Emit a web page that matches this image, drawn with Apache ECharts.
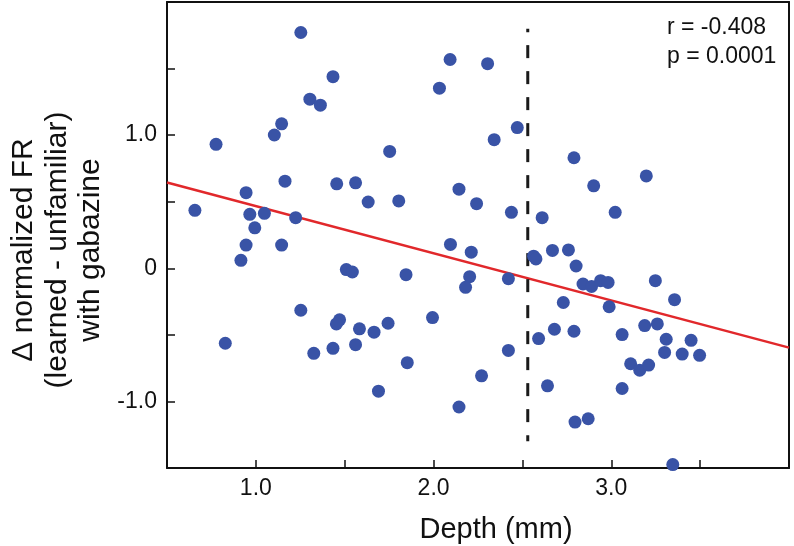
<!DOCTYPE html>
<html>
<head>
  <meta charset="utf-8">
  <title>Depth vs normalized FR</title>
  <script src="https://cdn.jsdelivr.net/npm/echarts@6/dist/echarts.min.js"></script>
  <style>
    html, body {
      margin: 0;
      padding: 0;
      background: #fff;
    }
    #chart {
      width: 794px;
      height: 546px;
    }
  </style>
</head>
<body>
<div id="chart"></div>
<script>
  /* depth of each recording site (mm) */
  let depth = [
    1.253, 1.434, 1.304, 1.363, 1.145, 1.104, 0.776, 1.164, 1.455, 1.561,
    1.632, 0.945, 0.657, 0.966, 1.048, 1.224, 0.994, 0.945, 1.145, 0.916,
    1.509, 1.543, 1.253, 1.471, 1.453, 1.583, 1.665, 0.828, 1.326, 1.434,
    1.561, 1.690, 1.744, 1.845, 1.852, 1.994, 2.095, 2.212, 2.203, 2.180,
    2.143, 2.270, 2.421, 2.421, 2.563, 2.576, 2.669, 2.759, 2.802, 2.841,
    2.730, 2.680, 2.591, 2.790, 2.641, 2.796, 2.870, 2.889, 2.940, 2.982,
    2.988, 3.061, 3.248, 3.356, 3.188, 3.259, 3.309, 3.300, 3.449, 3.399,
    3.497, 3.109, 3.160, 3.210, 3.061, 3.346, 2.093, 2.304, 2.033, 2.471,
    2.341, 1.753, 2.790, 1.804, 2.143, 2.242, 2.438, 2.611, 3.197, 2.901,
    3.022
  ];

  /* Δ normalized FR (learned - unfamiliar) with gabazine */
  let deltaFR = [
    1.771, 1.439, 1.270, 1.225, 1.085, 1.001, 0.931, 0.654, 0.634, 0.642,
    0.498, 0.568, 0.435, 0.405, 0.413, 0.380, 0.304, 0.174, 0.174, 0.060,
    -0.010, -0.028, -0.315, -0.387, -0.418, -0.455, -0.480, -0.563, -0.639, -0.601,
    -0.574, -0.923, -0.413, -0.048, -0.709, -0.370, 0.179, 0.121, -0.063, -0.143,
    -1.042, -0.808, -0.078, -0.617, 0.091, 0.070, 0.134, 0.138, 0.017, -0.118,
    -0.257, -0.458, -0.528, -0.473, -0.883, -1.155, -1.130, -0.136, -0.093, -0.106,
    -0.289, -0.498, -0.093, -0.236, -0.430, -0.418, -0.533, -0.632, -0.541, -0.644,
    -0.654, -0.717, -0.765, -0.727, -0.903, -1.474, 1.568, 1.537, 1.353, 1.057,
    0.966, 0.878, 0.830, 0.506, 0.594, 0.485, 0.420, 0.380, 0.694, 0.619,
    0.420
  ];

  /* regression line end points */
  let fitX = [0.5, 4.0];
  let fitY = [0.644, -0.596];

  /* vertical dashed boundary */
  let boundaryX = [2.53, 2.53];
  let boundaryY = [1.80, -1.30];

  let xTickLabels = {'1': '1.0', '2': '2.0', '3': '3.0'};
  let yTickLabels = {'-1': '-1.0', '0': '0', '1': '1.0'};

  let statLines = ['r = -0.408', 'p = 0.0001'];
  let yTitleLines = ['\u0394 normalized FR', '(learned - unfamiliar)', 'with gabazine'];

  let fontFamily = '"Liberation Sans", Arial, Helvetica, sans-serif';
  let ink = '#111';

  function zip(xs, ys) {
    let out = [];
    xs.forEach(function (x, i) {
      out.push([x, ys[i]]);
    });
    return out;
  }

  /*边框轴：只画线，不画刻度和文字*/
  function frameAxis(position, min, max) {
    return {
      type: 'value',
      position: position,
      min: min,
      max: max,
      axisLine: {show: true, onZero: false, lineStyle: {color: ink, width: 2}},
      axisTick: {show: false},
      axisLabel: {show: false},
      splitLine: {show: false}
    };
  }

  let chart = echarts.init(document.getElementById('chart'), null, {renderer: 'canvas'});

  let option = {
    animation: false,
    backgroundColor: '#fff',
    grid: {
      left: 167,
      right: 5,
      top: 2,
      bottom: 78,
      containLabel: false,
      outerBoundsMode: 'none'
    },
    xAxis: [
      {
        type: 'value',
        position: 'bottom',
        min: 0.5,
        max: 4.0,
        interval: 0.5,
        name: 'Depth (mm)',
        nameLocation: 'middle',
        nameGap: 47,
        nameTextStyle: {
          fontFamily: fontFamily,
          fontSize: 29,
          color: ink,
          padding: [0, 0, 0, 36]
        },
        axisLine: {show: true, onZero: false, lineStyle: {color: ink, width: 2}},
        axisTick: {show: true, inside: true, length: 8, lineStyle: {color: ink, width: 1.5}},
        splitLine: {show: false},
        axisLabel: {
          margin: 9,
          fontFamily: fontFamily,
          fontSize: 23,
          color: ink,
          formatter: function (value) {
            return xTickLabels[String(value)] || '';
          }
        }
      },
      frameAxis('top', 0.5, 4.0)
    ],
    yAxis: [
      {
        type: 'value',
        position: 'left',
        min: -1.5,
        max: 2.0,
        interval: 0.5,
        axisLine: {show: true, onZero: false, lineStyle: {color: ink, width: 2}},
        axisTick: {show: true, inside: true, length: 8, lineStyle: {color: ink, width: 1.5}},
        splitLine: {show: false},
        axisLabel: {
          margin: 10,
          fontFamily: fontFamily,
          fontSize: 23,
          color: ink,
          formatter: function (value) {
            return yTickLabels[String(value)] || '';
          }
        }
      },
      frameAxis('right', -1.5, 2.0)
    ],
    series: [
      {
        /*回归线*/
        type: 'line',
        data: zip(fitX, fitY),
        showSymbol: false,
        symbol: 'none',
        lineStyle: {color: '#e1282b', width: 2.5},
        z: 2,
        silent: true
      },
      {
        /*虚线分界*/
        type: 'line',
        data: zip(boundaryX, boundaryY),
        showSymbol: false,
        symbol: 'none',
        lineStyle: {color: '#1a1a1a', width: 3, type: [13, 13], dashOffset: 9.5},
        z: 2,
        silent: true
      },
      {
        type: 'scatter',
        data: zip(depth, deltaFR),
        symbol: 'circle',
        symbolSize: 13,
        itemStyle: {color: '#3953a6', opacity: 1},
        z: 3
      }
    ],
    graphic: []
  };

  /*右上角统计文字*/
  let statYs = [28, 57];
  statLines.forEach(function (line, i) {
    option.graphic.push({
      type: 'text',
      x: 667,
      y: statYs[i],
      style: {
        text: line,
        font: '23px ' + fontFamily,
        fill: ink,
        align: 'left',
        verticalAlign: 'middle',
        textAlign: 'left',
        textVerticalAlign: 'middle'
      }
    });
  });

  /*纵轴标题，三行旋转文字*/
  let titleXs = [24, 57.5, 91];
  yTitleLines.forEach(function (line, i) {
    option.graphic.push({
      type: 'text',
      x: titleXs[i],
      y: 250,
      rotation: Math.PI / 2,
      style: {
        text: line,
        font: '30px ' + fontFamily,
        fill: ink,
        align: 'center',
        verticalAlign: 'middle',
        textAlign: 'center',
        textVerticalAlign: 'middle'
      }
    });
  });

  chart.setOption(option);
</script>
</body>
</html>
